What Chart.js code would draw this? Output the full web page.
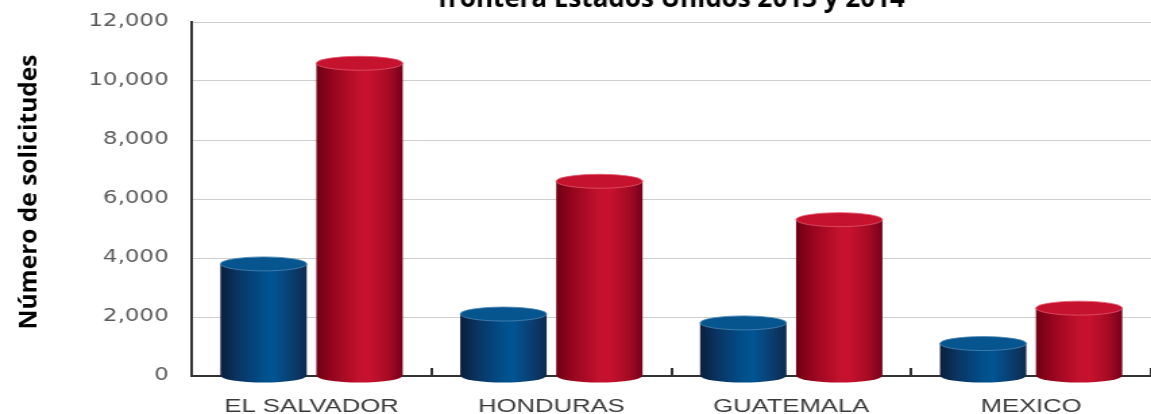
<!DOCTYPE html>
<html>
<head>
<meta charset="utf-8">
<script src="https://cdn.jsdelivr.net/npm/chart.js@4"></script>
<style>
  html, body { margin: 0; padding: 0; background: #fff; overflow: hidden; }
  #wrap { width: 853px; height: 414px; transform: scaleX(1.3494); transform-origin: 0 0; }
</style>
</head>
<body>
<div id="wrap"><canvas id="chart"></canvas></div>
<script>
const STRETCH = 1.3494;

const categories = ['EL SALVADOR', 'HONDURAS', 'GUATEMALA', 'MEXICO'];
const values2013 = [3800, 2100, 1800, 1100];
const values2014 = [10600, 6600, 5300, 2300];
const yTicks = [0, 2000, 4000, 6000, 8000, 10000, 12000];
const titleText = 'frontera Estados Unidos 2013 y 2014';
const yTitleText = 'Número de solicitudes';

const cylinderColors = [
  { stops: ['#0b1f3c', '#0a3564', '#00508c', '#005593', '#0a3c6c', '#0d2a4c'], top: '#07558f', rim: '#4a86b4' },
  { stops: ['#6e0014', '#98061f', '#c4112e', '#c8122f', '#a30a24', '#76001a'], top: '#c5132f', rim: '#e4566c' }
];

// draws every bar as a cylinder from the element geometry
const cylinders = {
  id: 'cylinders',
  afterDatasetsDraw(chart) {
    const ctx = chart.ctx;
    chart.data.datasets.forEach((ds, di) => {
      const meta = chart.getDatasetMeta(di);
      const c = cylinderColors[di];
      meta.data.forEach(el => {
        const cx = el.x, rx = el.width / 2, top = el.y, base = el.base, ry = 7;
        const g = ctx.createLinearGradient(cx - rx, 0, cx + rx, 0);
        const pos = [0, 0.2, 0.5, 0.62, 0.85, 1];
        c.stops.forEach((col, i) => g.addColorStop(pos[i], col));
        ctx.save();
        ctx.fillStyle = g;
        ctx.beginPath();
        ctx.moveTo(cx - rx, top);
        ctx.lineTo(cx - rx, base);
        ctx.ellipse(cx, base, rx, ry, 0, Math.PI, 0, true);
        ctx.lineTo(cx + rx, top);
        ctx.closePath();
        ctx.fill();
        ctx.beginPath();
        ctx.ellipse(cx, top, rx, ry, 0, 0, Math.PI * 2);
        ctx.fillStyle = c.top;
        ctx.fill();
        ctx.lineWidth = 0.8;
        ctx.strokeStyle = c.rim;
        ctx.stroke();
        ctx.restore();
      });
    });
  }
};

// title texts drawn unstretched on top of the stretched canvas
const overlayText = {
  id: 'overlayText',
  afterDraw(chart) {
    const ctx = chart.ctx, a = chart.chartArea;
    ctx.save();
    ctx.scale(1 / STRETCH, 1);
    ctx.fillStyle = '#000';
    ctx.font = 'bold 26px "Open Sans"';
    ctx.textAlign = 'center';
    ctx.textBaseline = 'alphabetic';
    ctx.fillText(titleText, (a.left + a.right) / 2 * STRETCH, 7);
    ctx.translate(36, (a.top + a.bottom) / 2 - 7);
    ctx.rotate(-Math.PI / 2);
    ctx.font = 'bold 24.5px "Open Sans"';
    ctx.fillText(yTitleText, 0, 0);
    ctx.restore();
  }
};

new Chart(document.getElementById('chart'), {
  type: 'bar',
  data: {
    labels: categories,
    datasets: [
      { label: '2013', data: values2013, backgroundColor: 'transparent' },
      { label: '2014', data: values2014, backgroundColor: 'transparent' }
    ]
  },
  options: {
    responsive: true,
    maintainAspectRatio: false,
    animation: false,
    layout: { padding: { top: 22, right: 0, bottom: 0, left: 0 } },
    datasets: { bar: { categoryPercentage: 0.8, barPercentage: 0.9 } },
    plugins: {
      legend: { display: false },
      title: { display: false },
      tooltip: { enabled: false }
    },
    scales: {
      x: {
        afterFit(scale) { scale.height = 38; },
        grid: { drawOnChartArea: false, drawTicks: true, tickLength: -8, color: '#333', lineWidth: 2 },
        border: { color: '#333', width: 2 },
        ticks: { color: '#3a3a3a', padding: 27, font: { family: '"Liberation Sans", Arial', size: 19 } }
      },
      y: {
        min: 0,
        max: 12000,
        afterFit(scale) {
          scale.width = 142;
          scale.paddingTop = 0;
          scale.paddingBottom = 0;
        },
        afterBuildTicks(scale) { scale.ticks = yTicks.map(v => ({ value: v })); },
        grid: { color: '#cfcfcf', lineWidth: 1, drawTicks: false },
        border: { color: '#333', width: 2 },
        ticks: {
          color: '#5a5a5a',
          padding: 17,
          font: { family: '"DejaVu Sans"', size: 17 },
          callback: v => v.toLocaleString('en-US')
        }
      }
    }
  },
  plugins: [cylinders, overlayText]
});
</script>
</body>
</html>
